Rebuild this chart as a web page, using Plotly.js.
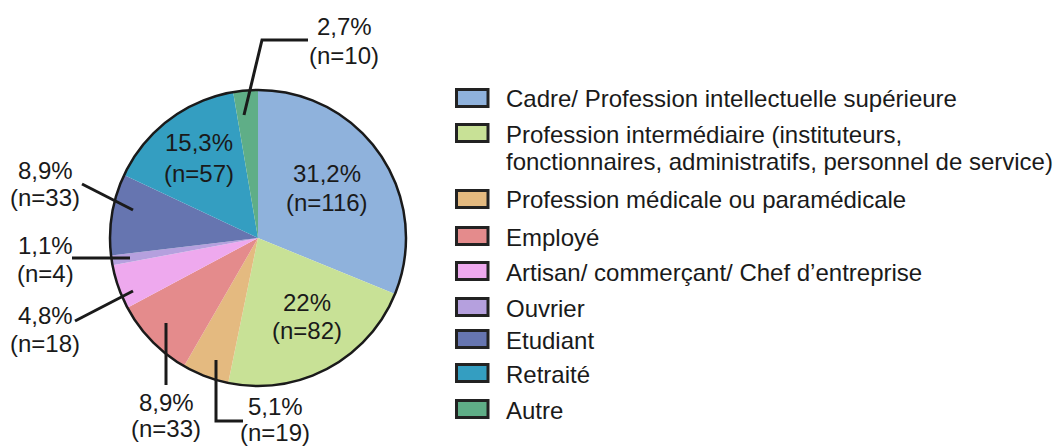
<!DOCTYPE html>
<html>
<head>
<meta charset="utf-8">
<script src="https://cdn.plot.ly/plotly-3.0.1.min.js"></script>
<style>html,body{margin:0;padding:0;background:#fff;}#chart{width:1062px;height:446px;}</style>
</head>
<body>
<div id="chart"></div>
<script>
// ---- data ----
const categories = [
  "Cadre/ Profession intellectuelle supérieure",
  "Profession intermédiaire (instituteurs,<br>fonctionnaires, administratifs, personnel de service)",
  "Profession médicale ou paramédicale",
  "Employé",
  "Artisan/ commerçant/ Chef d’entreprise",
  "Ouvrier",
  "Etudiant",
  "Retraité",
  "Autre"
];
const counts = [116, 82, 19, 33, 18, 4, 33, 57, 10];
const percents = [31.2, 22, 5.1, 8.9, 4.8, 1.1, 8.9, 15.3, 2.7];
const colors = ["#8FB2DC", "#C8E196", "#E4BA80", "#E48B8C", "#EEA9EE", "#B5A0DE", "#6675B0", "#349EC1", "#5FAE87"];

// ---- layout helpers (pixel -> paper) ----
const W = 1062, H = 446;
const px = x => x / W, py = y => 1 - y / H;
const FONT = "Liberation Sans, Arial, sans-serif";
const TXT = "#1a1a1a";
const FS = 24;

// label positions (centre x, line1 y, line2 y) for each slice
const labelPos = [
  [327, 173, 202], [307, 302, 330], [275, 406, 432], [166, 402, 428],
  [45, 315, 343], [45, 245, 273], [45, 170, 197], [199, 143, 173], [344, 27, 55]
];
// leader lines (pixel paths), by slice index
const leaders = {
  8: [[244,115],[262,40],[308,40]],
  6: [[133,210],[82,184]],
  5: [[130,258],[72,258]],
  4: [[133,291],[75,321]],
  3: [[166,323],[166,385]],
  2: [[216,360],[216,421],[243,421]]
};
// legend rows (box centre y)
const legendY = [98, 133, 199, 236, 271, 307, 339, 373, 409];

const fmtPct = v => String(v).replace(".", ",") + "%";

const annotations = [];
const shapes = [];

// pie outline (circumference only)
shapes.push({type: "circle", xref: "paper", yref: "paper",
  x0: px(110), x1: px(406), y0: py(386), y1: py(90),
  line: {color: TXT, width: 2.5}, layer: "above"});

counts.forEach((n, i) => {
  const [cx, y1, y2] = labelPos[i];
  annotations.push({xref: "paper", yref: "paper", x: px(cx), y: py(y1), xanchor: "center", yanchor: "middle",
    text: fmtPct(percents[i]), showarrow: false, font: {family: FONT, size: FS, color: TXT}});
  annotations.push({xref: "paper", yref: "paper", x: px(cx), y: py(y2), xanchor: "center", yanchor: "middle",
    text: "(n=" + n + ")", showarrow: false, font: {family: FONT, size: FS, color: TXT}});
});

Object.keys(leaders).forEach(k => {
  const pts = leaders[k];
  const d = pts.map((p, j) => (j ? "L" : "M") + px(p[0]) + "," + py(p[1])).join(" ");
  shapes.push({type: "path", xref: "paper", yref: "paper", path: d,
    line: {color: TXT, width: 3}, layer: "above"});
});

// legend (manual)
categories.forEach((c, i) => {
  const yc = legendY[i];
  shapes.push({type: "rect", xref: "paper", yref: "paper",
    x0: px(456.5), x1: px(488), y0: py(yc - 8.5), y1: py(yc + 8.5),
    fillcolor: colors[i], line: {color: "#222", width: 3}, layer: "above"});
  const lines = c.split("<br>");
  lines.forEach((t, j) => {
    annotations.push({xref: "paper", yref: "paper", x: px(504), y: py(yc + 1 + j * 28), xanchor: "left", yanchor: "middle",
      text: t, showarrow: false, font: {family: FONT, size: FS, color: TXT}});
  });
});

const trace = {
  type: "pie",
  values: counts,
  labels: categories,
  marker: {colors: colors, line: {width: 0}},
  sort: false,
  direction: "clockwise",
  rotation: 0,
  textinfo: "none",
  hoverinfo: "label+value+percent",
  showlegend: false,
  domain: {x: [px(110), px(406)], y: [py(386), py(90)]}
};

const layout = {
  width: W, height: H,
  margin: {l: 0, r: 0, t: 0, b: 0},
  paper_bgcolor: "#fff",
  showlegend: false,
  annotations: annotations,
  shapes: shapes,
  font: {family: FONT}
};

Plotly.newPlot("chart", [trace], layout, {displayModeBar: false, staticPlot: true});
</script>
</body>
</html>
